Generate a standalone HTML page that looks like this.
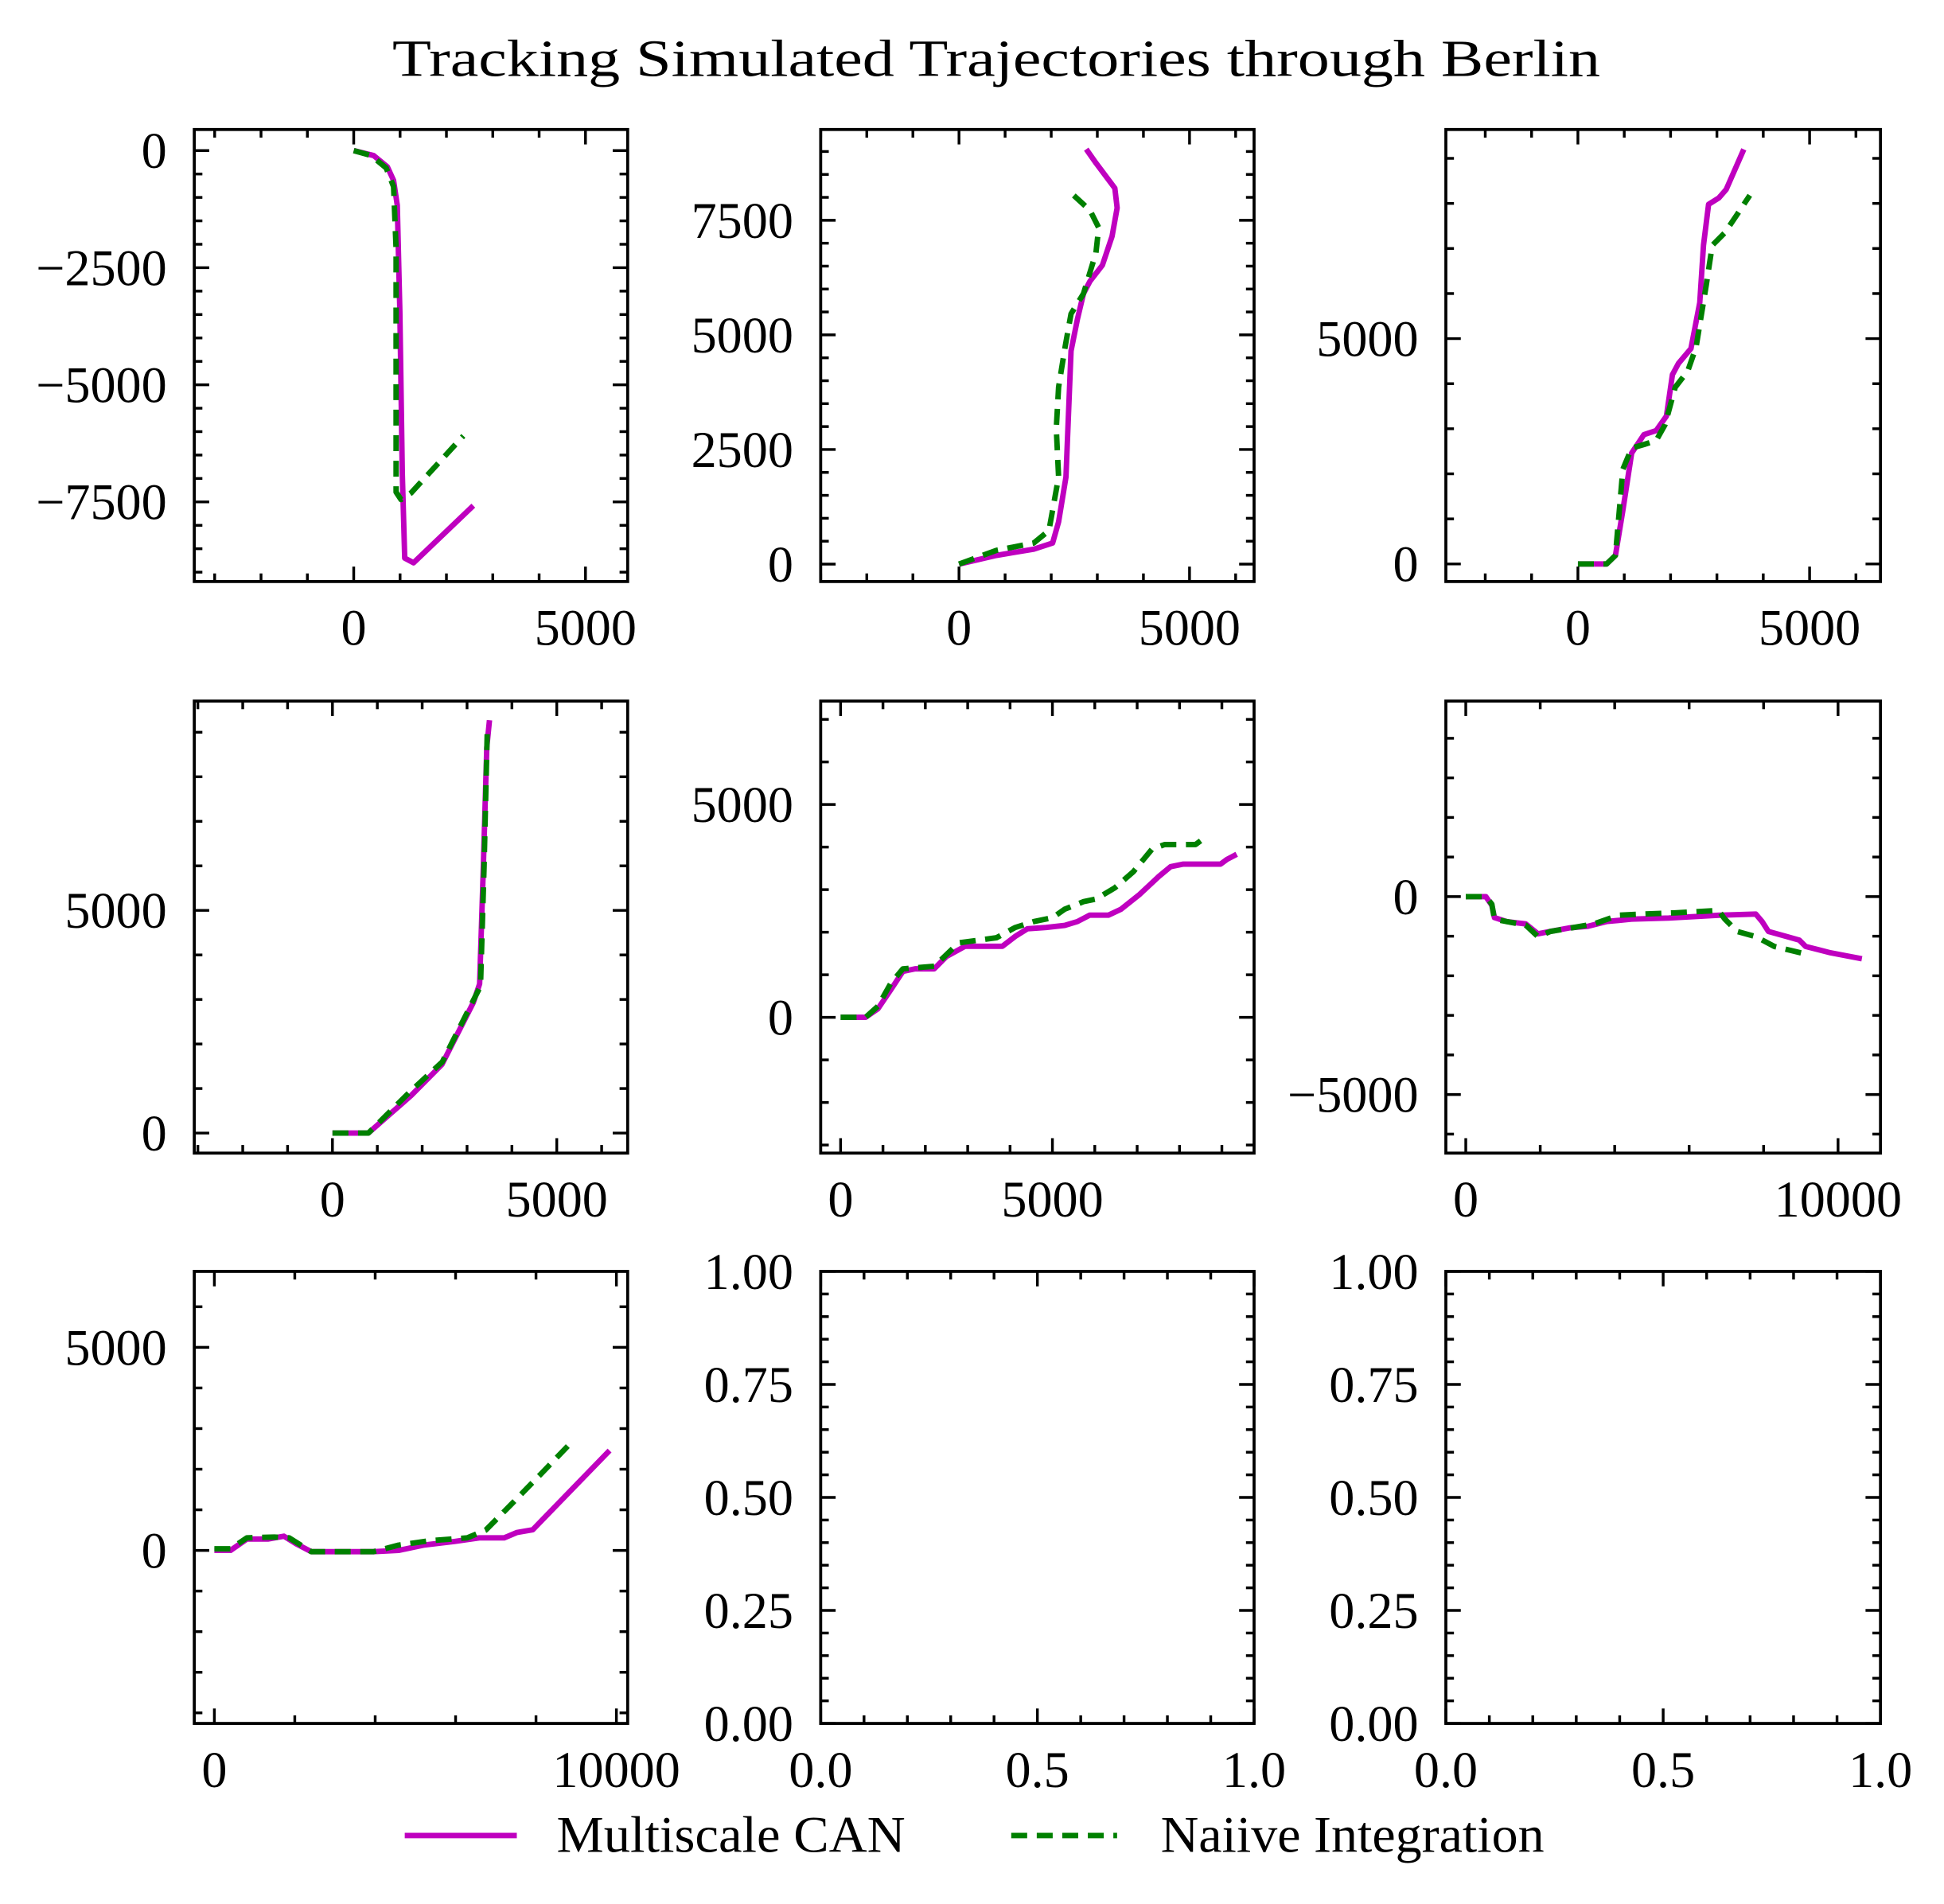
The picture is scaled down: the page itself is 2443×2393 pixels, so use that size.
<!DOCTYPE html>
<html><head><meta charset="utf-8"><style>
html,body{margin:0;padding:0;background:#fff}
svg{display:block}
text{font-family:"Liberation Serif",serif;fill:#000}
</style></head><body>
<svg id="fig" xmlns="http://www.w3.org/2000/svg" width="2443" height="2393" viewBox="0 0 1561 1529" preserveAspectRatio="none">
<text x="800" y="61" text-anchor="middle" font-size="42" textLength="970" lengthAdjust="spacingAndGlyphs">Tracking Simulated Trajectories through Berlin</text>
<g>
<line x1="325" y1="1474" x2="415" y2="1474" stroke="#bf00bf" stroke-width="4.4"/>
<text x="447" y="1487" font-size="41" textLength="280" lengthAdjust="spacingAndGlyphs">Multiscale CAN</text>
<line x1="812" y1="1474" x2="897" y2="1474" stroke="#008000" stroke-width="4.4" stroke-dasharray="12.8 7.7"/>
<text x="932" y="1487" font-size="41" textLength="308" lengthAdjust="spacingAndGlyphs">Naiive Integration</text>
</g>
</svg>
<script>
// ---- data (x, y pairs per trajectory) ----
const p1CanX = [0,430,726,860,940,995,1048,1100,1290,2580];
const p1CanY = [0,-106,-346,-638,-1170,-3430,-6890,-8700,-8800,-7580];
const p1NaiveX = [0,376,700,860,914,914,914,1020,1236,2365];
const p1NaiveY = [0,-106,-370,-770,-2100,-4760,-7290,-7450,-7310,-6090];

const p2CanX = [0,810,1620,2030,2160,2320,2380,2430,2570,2700,2840,3110,3320,3430,3380,2970,2760];
const p2CanY = [0,190,326,460,920,1900,3400,4650,5350,5900,6170,6520,7150,7770,8200,8750,9050];
const p2NaiveX = [0,810,1620,1950,2160,2110,2160,2300,2430,2700,2970,3030,2840,2490];
const p2NaiveY = [0,300,460,730,1900,2960,3860,4730,5460,5900,6790,7340,7720,8040];

const p3CanX = [0,620,810,970,1160,1425,1690,1910,2040,2170,2440,2630,2710,2820,3040,3200,3580];
const p3CanY = [0,0,190,1190,2460,2870,2960,3280,4200,4450,4780,5800,7070,7980,8120,8310,9200];
const p3NaiveX = [0,620,810,970,1160,1425,1690,1880,2100,2370,2550,2770,2900,3170,3440,3710];
const p3NaiveY = [0,0,190,2100,2570,2650,2740,3090,3920,4280,4810,6190,7070,7350,7760,8180];

const p4CanX = [0,800,1750,2440,3140,3280,3360,3440,3500];
const p4CanY = [0,0,840,1540,2930,3350,5870,8660,9270];
const p4NaiveX = [0,800,1700,2450,3100,3300,3380,3450];
const p4NaiveY = [0,0,900,1600,2900,3300,6000,9000];

const p5CanX = [0,590,880,1180,1470,1760,2210,2500,2940,3820,4120,4410,4850,5290,5590,5880,6320,6620,7060,7500,7790,8090,8970,9120,9350];
const p5CanY = [0,0,200,640,1080,1140,1140,1430,1670,1670,1900,2080,2110,2160,2250,2400,2400,2540,2890,3300,3540,3600,3600,3710,3830];
const p5NaiveX = [0,590,880,1180,1470,2210,2790,3680,4120,4560,5000,5290,5740,6030,6470,6910,7350,7650,8380,8620];
const p5NaiveY = [0,0,260,790,1140,1200,1750,1870,2110,2250,2340,2540,2720,2780,3040,3420,3950,4060,4060,4240];

const p6CanX = [0,540,700,770,1100,1610,1940,2270,2780,3280,3780,4450,5450,6790,7790,7960,8130,8630,8960,9130,9800,10640];
const p6CanY = [0,0,-220,-530,-630,-690,-940,-880,-790,-750,-630,-570,-540,-470,-440,-630,-880,-1010,-1100,-1260,-1420,-1570];
const p6NaiveX = [0,540,700,770,1100,1610,1940,2270,2840,3440,4110,4780,5620,6790,6960,7290,7790,8290,9130];
const p6NaiveY = [0,0,-190,-570,-630,-720,-1010,-880,-790,-690,-470,-440,-410,-350,-570,-880,-1010,-1260,-1450];

const p7CanX = [0,400,810,1330,1730,2040,2410,3960,4580,5200,5970,6590,7210,7520,7920,9830];
const p7CanY = [0,0,280,280,350,160,-30,-30,0,130,220,310,310,440,510,2460];
const p7NaiveX = [0,400,810,1490,1860,2410,3960,4580,5360,6290,6750,7370,8140,8850];
const p7NaiveY = [40,40,310,330,310,-30,-30,130,240,310,500,1120,1900,2630];

// tick label arrays
const tickX5000 = [0,5000];
const tickX10000 = [0,10000];
const tickY1 = [0,-2500,-5000,-7500];
const tickY2 = [0,2500,5000,7500];
const tickY5000 = [0,5000];
const tickY6 = [0,-5000];
const tickUnitX = [0,0.5,1.0];
const tickUnitY = [0,0.25,0.5,0.75,1.0];

const NS = "http://www.w3.org/2000/svg";
const svg = document.getElementById('fig');
function mk(tag, attrs, parent){
  const e = document.createElementNS(NS, tag);
  for (const k in attrs) e.setAttribute(k, attrs[k]);
  parent.appendChild(e);
  return e;
}
function fmt(v, dec){
  let s = dec ? v.toFixed(dec) : String(Math.round(v));
  return s.replace('-', '\u2212');
}
const cols = [[156,504],[659,1007],[1161,1510]];
const rows = [[104,467],[563,926],[1021,1384]];

function panel(idx, r, c, xd, yd, xMaj, xMin, yMaj, yMin, xDec, yDec, series){
  const [L,R] = cols[c], [T,B] = rows[r];
  const g = mk('g', {}, svg);
  
  
  const sx = v => L + (v - xd[0]) / (xd[1] - xd[0]) * (R - L);
  const sy = v => B - (v - yd[0]) / (yd[1] - yd[0]) * (B - T);
  const cp = mk('clipPath', {id: 'clip' + idx}, g);
  mk('rect', {x: L, y: T, width: R - L, height: B - T}, cp);
  series.forEach(s => {
    const pts = s.x.map((xv, i) => sx(xv).toFixed(2) + ',' + sy(s.y[i]).toFixed(2)).join(' ');
    const pl = mk('polyline', {points: pts, fill: 'none', stroke: s.color, 'stroke-width': 4.4,
      'stroke-linejoin': 'round', 'clip-path': 'url(#clip' + idx + ')'}, g);
    if (s.dash) pl.setAttribute('stroke-dasharray', '12.8 7.7');
    
    
  });
  const tg = mk('g', {stroke: '#000', 'stroke-width': 2.2}, g);
  const eps = 1e-9;
  const minorX = [], minorY = [];
  for (let v = Math.ceil(xd[0] / xMin - eps) * xMin; v <= xd[1] + eps; v += xMin) minorX.push(v);
  for (let v = Math.ceil(yd[0] / yMin - eps) * yMin; v <= yd[1] + eps; v += yMin) minorY.push(v);
  minorX.forEach(v => {
    const isMaj = Math.abs(v / xMaj - Math.round(v / xMaj)) < 1e-6;
    const len = isMaj ? 12 : 6.5, x = sx(v);
    mk('line', {x1: x, y1: B, x2: x, y2: B - len}, tg);
    mk('line', {x1: x, y1: T, x2: x, y2: T + len}, tg);
  });
  minorY.forEach(v => {
    const isMaj = Math.abs(v / yMaj - Math.round(v / yMaj)) < 1e-6;
    const len = isMaj ? 12 : 6.5, y = sy(v);
    mk('line', {x1: L, y1: y, x2: L + len, y2: y}, tg);
    mk('line', {x1: R, y1: y, x2: R - len, y2: y}, tg);
  });
  const fr = mk('rect', {x: L, y: T, width: R - L, height: B - T, fill: 'none', stroke: '#000', 'stroke-width': 2.4}, g);
  
  
  return {g, sx, sy, L, R, T, B, xDec, yDec};
}
function labels(p, xt, yt){
  xt.forEach(v => {
    const t = mk('text', {x: p.sx(v), y: p.B + 51, 'font-size': 41, 'text-anchor': 'middle'}, p.g);
    t.textContent = fmt(v, p.xDec);
    
    
  });
  yt.forEach(v => {
    const t = mk('text', {x: p.L - 22, y: p.sy(v) + 14, 'font-size': 41, 'text-anchor': 'end'}, p.g);
    t.textContent = fmt(v, p.yDec);
    
    
  });
}
function S(x, y, naive){
  return naive ? {x, y, color: '#008000', dash: true, name: 'naive-integration-line'}
               : {x, y, color: '#bf00bf', dash: false, name: 'multiscale-can-line'};
}
let p;
p = panel(1,0,0,[-3440,5910],[-9200,450],5000,1000,2500,500,0,0,[S(p1CanX,p1CanY),S(p1NaiveX,p1NaiveY,1)]);
labels(p, tickX5000, tickY1);
p = panel(2,0,1,[-3000,6400],[-380,9480],5000,1000,2500,500,0,0,[S(p2CanX,p2CanY),S(p2NaiveX,p2NaiveY,1)]);
labels(p, tickX5000, tickY2);
p = panel(3,0,2,[-2850,6530],[-390,9640],5000,1000,5000,1000,0,0,[S(p3CanX,p3CanY),S(p3NaiveX,p3NaiveY,1)]);
labels(p, tickX5000, tickY5000);
p = panel(4,1,0,[-3080,6580],[-450,9700],5000,1000,5000,1000,0,0,[S(p4CanX,p4CanY),S(p4NaiveX,p4NaiveY,1)]);
labels(p, tickX5000, tickY5000);
p = panel(5,1,1,[-470,9760],[-3190,7430],5000,1000,5000,1000,0,0,[S(p5CanX,p5CanY),S(p5NaiveX,p5NaiveY,1)]);
labels(p, tickX5000, tickY5000);
p = panel(6,1,2,[-535,11140],[-6480,4940],10000,2000,5000,1000,0,0,[S(p6CanX,p6CanY),S(p6NaiveX,p6NaiveY,1)]);
labels(p, tickX10000, tickY6);
p = panel(7,2,0,[-500,10280],[-4260,6870],10000,2000,5000,1000,0,0,[S(p7CanX,p7CanY),S(p7NaiveX,p7NaiveY,1)]);
labels(p, tickX10000, tickY5000);
p = panel(8,2,1,[0,1],[0,1],0.5,0.1,0.25,0.05,1,2,[]);
labels(p, tickUnitX, tickUnitY);
p = panel(9,2,2,[0,1],[0,1],0.5,0.1,0.25,0.05,1,2,[]);
labels(p, tickUnitX, tickUnitY);
</script>
</body></html>
